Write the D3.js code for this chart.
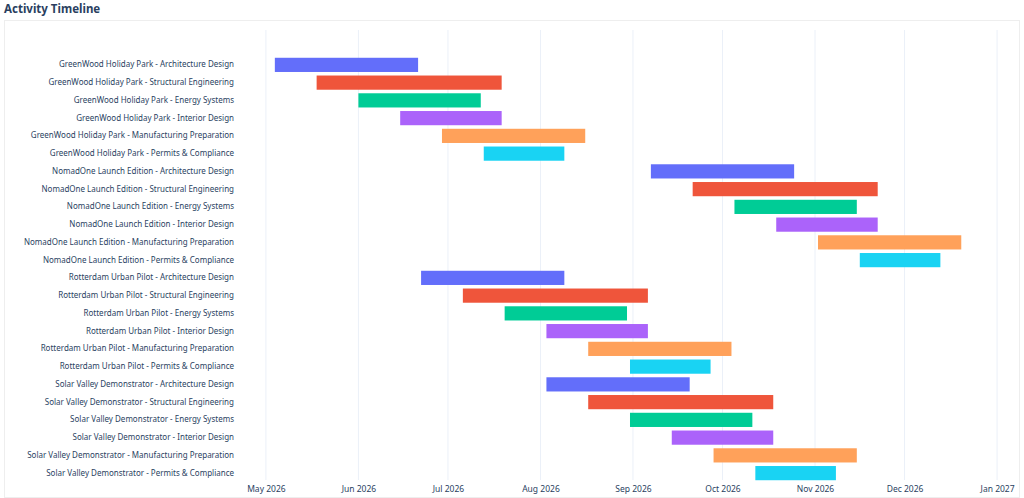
<!DOCTYPE html>
<html><head><meta charset="utf-8">
<script src="https://cdn.jsdelivr.net/npm/d3@7"></script>
<style>body{margin:0;background:#fff;font-family:"Noto Sans",sans-serif}</style>
</head><body>
<script>
const width = 1024
const height = 498
const margin = ({top: 56, right: 12, bottom: 16, left: 245})

const projects = ["GreenWood Holiday Park", "NomadOne Launch Edition", "Rotterdam Urban Pilot", "Solar Valley Demonstrator"]
const activities = ["Architecture Design", "Structural Engineering", "Energy Systems", "Interior Design", "Manufacturing Preparation", "Permits & Compliance"]
const colors = ["#636efa", "#EF553B", "#00cc96", "#ab63fa", "#FFA15A", "#19d3f3"]
// [start, end] per project, per activity
const starts = [
    ["2026-05-04", "2026-05-18", "2026-06-01", "2026-06-15", "2026-06-29", "2026-07-13"],
    ["2026-09-07", "2026-09-21", "2026-10-05", "2026-10-19", "2026-11-02", "2026-11-16"],
    ["2026-06-22", "2026-07-06", "2026-07-20", "2026-08-03", "2026-08-17", "2026-08-31"],
    ["2026-08-03", "2026-08-17", "2026-08-31", "2026-09-14", "2026-09-28", "2026-10-12"]
]
const ends = [
    ["2026-06-21", "2026-07-19", "2026-07-12", "2026-07-19", "2026-08-16", "2026-08-09"],
    ["2026-10-25", "2026-11-22", "2026-11-15", "2026-11-22", "2026-12-20", "2026-12-13"],
    ["2026-08-09", "2026-09-06", "2026-08-30", "2026-09-06", "2026-10-04", "2026-09-27"],
    ["2026-09-20", "2026-10-18", "2026-10-11", "2026-10-18", "2026-11-15", "2026-11-08"]
]

const parse = d3.utcParse("%Y-%m-%d")
let rows = []
projects.forEach((p, i) => activities.forEach((a, j) => rows.push({
    name: p + " - " + a, start: parse(starts[i][j]), end: parse(ends[i][j]), color: colors[j]
})))

const svg = d3.select("body").append("svg").attr("width", width).attr("height", height)

svg.append("text").attr("x", 4).attr("y", 13)
    .attr("font-size", 11.5).attr("font-weight", "bold").attr("fill", "#2a3f5f")
    .text("Activity Timeline")

svg.append("rect").attr("x", 4.5).attr("y", 20.5).attr("width", width - 9).attr("height", height - 21)
    .attr("fill", "none").attr("stroke", "#eeeeee")

let x = d3.scaleUtc()
    .domain([parse("2026-04-24"), parse("2027-01-06")])
    .range([margin.left, width - margin.right])

let y = d3.scaleBand()
    .domain(rows.map(d => d.name))
    .range([margin.top, height - margin.bottom])
    .paddingInner(0.2).paddingOuter(0.1)

const ticks = d3.utcMonth.range(parse("2026-05-01"), parse("2027-01-02"))

svg.append("g")
  .selectAll("line")
  .data(ticks)
  .join("line")
    .attr("x1", d => x(d)).attr("x2", d => x(d))
    .attr("y1", 30).attr("y2", height - margin.bottom - 2)
    .attr("stroke", "#ebf0f8")

svg.append("g")
    .attr("transform", `translate(0,${height - margin.bottom + 1})`)
    .call(d3.axisBottom(x).tickValues(ticks).tickSize(0).tickFormat(d3.utcFormat("%b %Y")))
    .call(g => g.select(".domain").remove())
    .call(g => g.selectAll("text").attr("fill", "#2a3f5f").attr("font-size", 8.5).attr("font-family", "Noto Sans"))

svg.append("g")
    .attr("transform", `translate(${margin.left - 8},0)`)
    .call(d3.axisLeft(y).tickSize(0))
    .call(g => g.select(".domain").remove())
    .call(g => g.selectAll("text").attr("fill", "#2a3f5f").attr("font-size", 8).attr("font-family", "Noto Sans"))

svg.append("g")
  .selectAll("rect")
  .data(rows)
  .join("rect")
    .attr("x", d => x(d.start))
    .attr("y", d => y(d.name))
    .attr("width", d => x(d.end) - x(d.start))
    .attr("height", y.bandwidth())
    .attr("fill", d => d.color)
</script>
</body></html>
